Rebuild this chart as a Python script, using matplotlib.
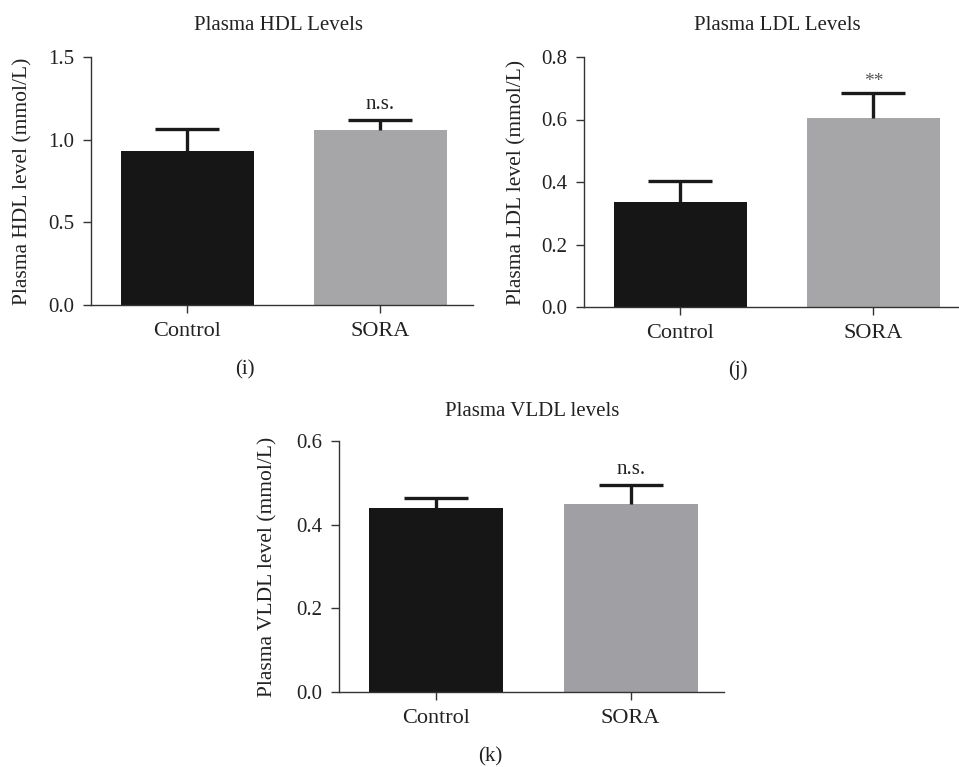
import matplotlib
matplotlib.use("Agg")
import matplotlib.pyplot as plt

categories = ["Control", "SORA"]
hdl_mean = [0.93, 1.06]
hdl_err = [0.135, 0.06]
ldl_mean = [0.337, 0.604]
ldl_err = [0.066, 0.082]
vldl_mean = [0.441, 0.449]
vldl_err = [0.022, 0.046]

hdl_ticks = [0.0, 0.5, 1.0, 1.5]
ldl_ticks = [0.0, 0.2, 0.4, 0.6, 0.8]
vldl_ticks = [0.0, 0.2, 0.4, 0.6]

bar_colors = ["#161616", "#a6a5a8"]

plt.rcParams["font.family"] = ["Liberation Serif", "DejaVu Serif"]
FS = 15

W, H = 959, 767
fig = plt.figure(figsize=(W / 100, H / 100), dpi=100)


def px_axes(left, right, bottom, top):
    return [left / W, 1 - bottom / H, (right - left) / W, (bottom - top) / H]


def rect_center_y(rect):
    return 1 - (rect[1] + rect[3] / 2)


def panel(rect, means, errs, ticks, ylim, ylabel, title, letter, annots,
          ylabel_x, title_xy, letter_xy, grey):
    ax = fig.add_axes(rect)
    x = list(range(len(categories)))
    cols = [bar_colors[0], grey]
    ax.bar(x, means, width=0.69, color=cols, zorder=2)
    eb = ax.errorbar(x, means, yerr=[[0] * len(errs), errs], fmt="none",
                     ecolor="#1a1a1a", elinewidth=2.4, capsize=23,
                     capthick=2.4, zorder=3)
    caplines = eb[1]
    if len(caplines) >= 2:
        caplines[0].set_visible(False)
    ax.set_xlim(-0.5, 1.48)
    ax.set_ylim(*ylim)
    ax.set_yticks(ticks)
    ax.set_yticklabels([f"{t:.1f}" for t in ticks])
    ax.set_xticks(x)
    ax.set_xticklabels(categories)
    for s in ["top", "right"]:
        ax.spines[s].set_visible(False)
    for s in ["left", "bottom"]:
        ax.spines[s].set_color("#333333")
        ax.spines[s].set_linewidth(1.0)
    ax.tick_params(axis="both", labelsize=FS, length=6, width=1.0,
                   color="#333333", pad=6, labelcolor="#222222")
    ax.tick_params(axis="x", labelsize=FS + 1)
    for i, txt in enumerate(annots):
        if txt:
            off = 8 if txt == "**" else 11
            ax.annotate(txt, (x[i], means[i] + errs[i]), xytext=(0, off),
                        textcoords="offset points", ha="center", va="center",
                        fontsize=FS if txt != "**" else 14,
                        color="#222222" if txt != "**" else "#555555")
    fig.text(ylabel_x / W, 1 - rect_center_y(rect), ylabel, rotation=90,
             ha="center", va="center", fontsize=FS + 0.5, color="#222222")
    fig.text(title_xy[0] / W, 1 - title_xy[1] / H, title, ha="center",
             va="center", fontsize=FS, color="#222222")
    fig.text(letter_xy[0] / W, 1 - letter_xy[1] / H, letter, ha="center",
             va="center", fontsize=FS, color="#222222")
    return ax


panel(px_axes(91, 473, 305, 57), hdl_mean, hdl_err, hdl_ticks, (0, 1.5),
      "Plasma HDL level (mmol/L)", "Plasma HDL Levels", "(i)",
      ["", "n.s."], 23, (279, 25), (245, 370), "#a6a5a8")
panel(px_axes(584, 966, 307, 57), ldl_mean, ldl_err, ldl_ticks, (0, 0.8),
      "Plasma LDL level (mmol/L)", "Plasma LDL Levels", "(j)",
      ["", "**"], 517, (777, 25), (738, 370), "#a6a5a8")
panel(px_axes(339, 724, 692, 441), vldl_mean, vldl_err, vldl_ticks, (0, 0.6),
      "Plasma VLDL level (mmol/L)", "Plasma VLDL levels", "(k)",
      ["", "n.s."], 268, (532, 412), (490, 757), "#a09fa4")

fig.savefig("out.png", dpi=100)
